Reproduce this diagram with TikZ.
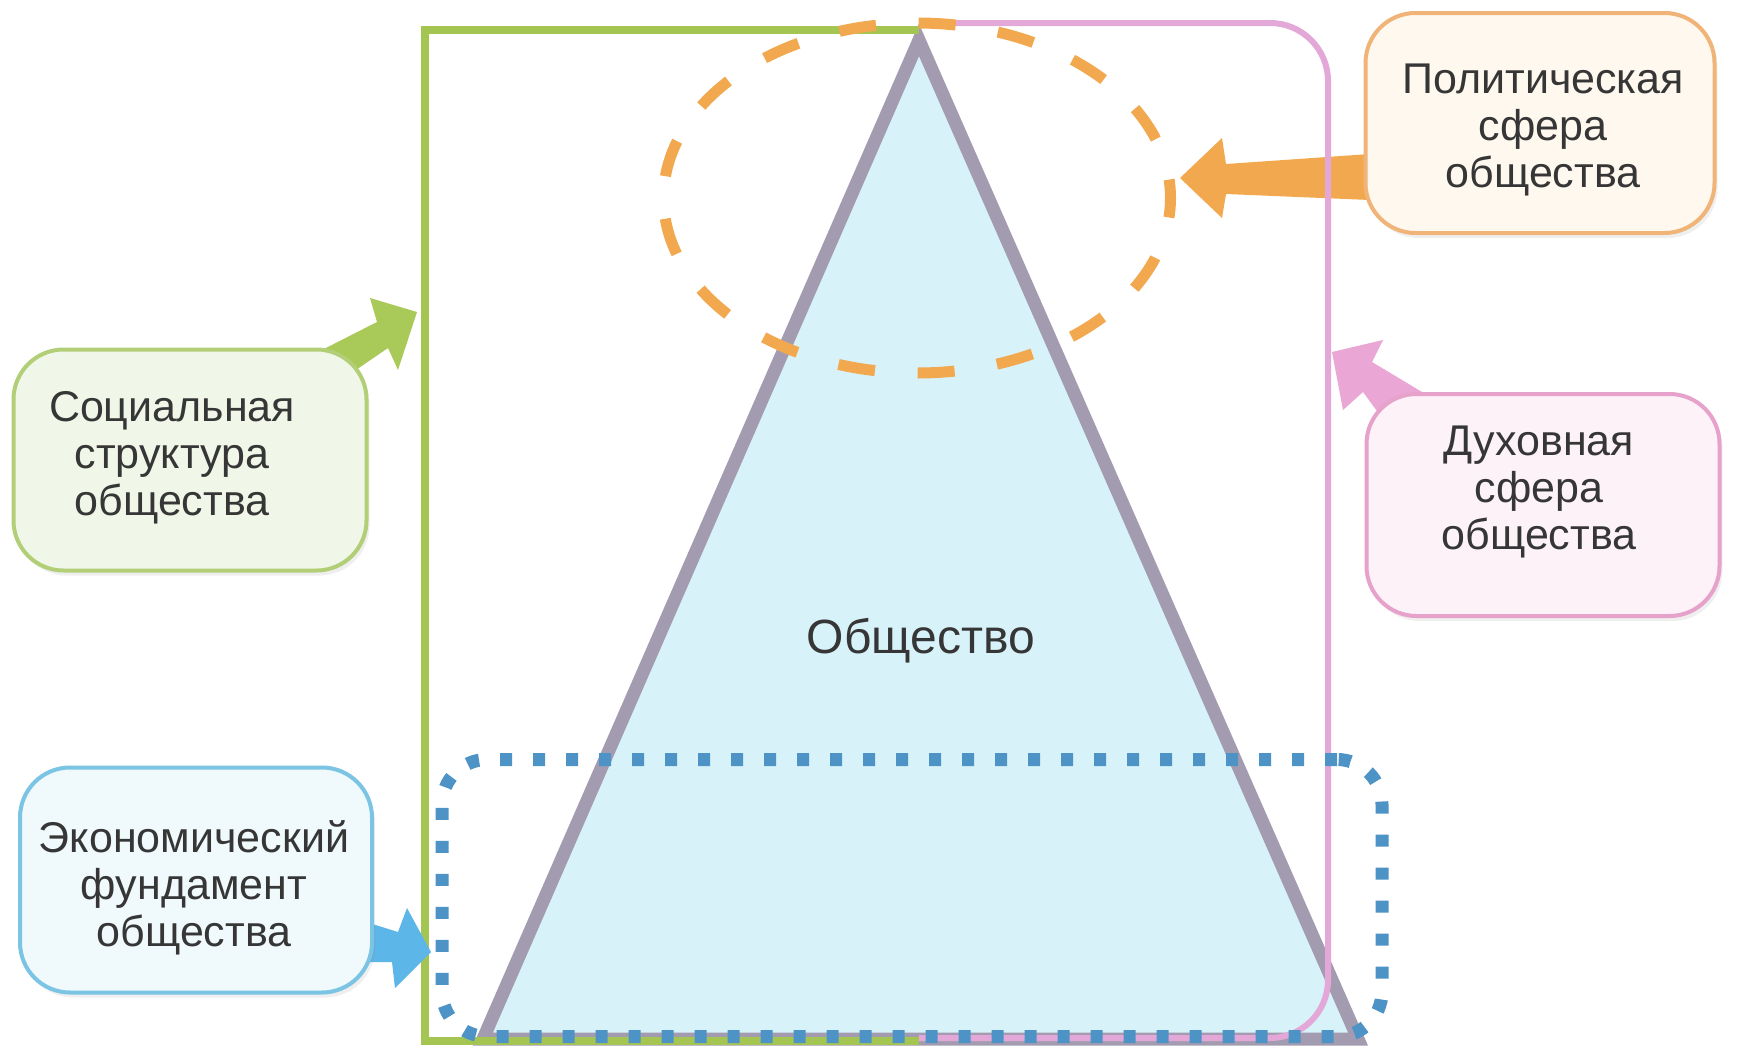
\documentclass[tikz,border=0pt]{standalone}
\usepackage{fontspec}
\setmainfont{Liberation Sans}
\usetikzlibrary{shapes.geometric,shadows}
\definecolor{grn}{HTML}{A5C552}
\definecolor{pnk}{HTML}{E3A8D8}
\definecolor{orn}{HTML}{F2A84E}
\definecolor{dotblue}{HTML}{4E93C6}
\definecolor{arrblue}{HTML}{5DB6E8}
\definecolor{trist}{HTML}{A39CB0}
\definecolor{trifill}{HTML}{D8F2F9}
\definecolor{txt}{HTML}{363636}
\definecolor{polbd}{HTML}{F0B478}\definecolor{polfl}{HTML}{FEF8EE}
\definecolor{socbd}{HTML}{B2CF78}\definecolor{socfl}{HTML}{F1F7E8}
\definecolor{spibd}{HTML}{E6A2CA}\definecolor{spifl}{HTML}{FDF2F8}
\definecolor{ecobd}{HTML}{7CC4E4}\definecolor{ecofl}{HTML}{F0F9FC}
\definecolor{grnarr}{HTML}{A9C958}
\definecolor{pnkarr}{HTML}{EAA6D4}
\begin{document}
\begin{tikzpicture}[x=1pt,y=-1pt,
  boxst/.style={rectangle, rounded corners=50pt, line width=4pt, inner sep=0pt,
     drop shadow={opacity=0.12, shadow xshift=3pt, shadow yshift=-5pt}},
  lbl/.style={align=center, text=txt, font=\fontsize{43}{47}\selectfont, inner sep=0pt},
  tri/.style={draw=trist, fill=trifill, line width=13pt, line join=miter},
]
\useasboundingbox (0,0) rectangle (1740,1047);
\fill[white] (0,0) rectangle (1740,1047);

% triangle (society)
\draw[tri] (919,40) -- (483,1039) -- (1358,1039) -- cycle;
\node[text=txt, font=\fontsize{48}{52}\selectfont, inner sep=0pt] (soc) at (921,641) {Общество};

% orange arrow (under pink frame)
\fill[orn] (1180,178) -- (1222,138) -- (1226,164) -- (1370,154) -- (1370,200) -- (1226,194) -- (1222,218) -- cycle;

% frames
\draw[grn, line width=8pt] (919,30) -- (425,30) -- (425,1041) -- (919,1041);
\draw[pnk, line width=6pt, rounded corners=58pt] (919,23) -- (1328,23) -- (1328,1038) -- (919,1038);

% zones
\node[ellipse, draw=orn, line width=11pt, minimum width=507pt, minimum height=350pt,
      dash pattern=on 37pt off 42.8pt, dash phase=18.5pt] (polzone) at (917,198) {};
\node[rectangle, rounded corners=45pt, draw=dotblue, line width=13pt,
      minimum width=940pt, minimum height=277pt, dash pattern=on 12pt off 21pt] (ecozone) at (912,898) {};

% other arrows
\fill[grnarr] (318,352) -- (377,322) -- (370,298) -- (417,312) -- (398,370) -- (388,348) -- (350,374) -- cycle;
\fill[pnkarr] (1332,352) -- (1383,340) -- (1372,362) -- (1432,398) -- (1385,422) -- (1363,392) -- (1343,410) -- cycle;
\fill[arrblue] (366,922) -- (398,932) -- (407,908) -- (431,952) -- (395,988) -- (392,962) -- (366,962) -- cycle;

% boxes
\node[boxst, draw=polbd, fill=polfl, minimum width=349pt, minimum height=220pt] (pol) at (1540,123) {};
\node[boxst, draw=socbd, fill=socfl, minimum width=353pt, minimum height=221pt] (socb) at (190,460) {};
\node[boxst, draw=spibd, fill=spifl, minimum width=353pt, minimum height=222pt] (spi) at (1543,505) {};
\node[boxst, draw=ecobd, fill=ecofl, minimum width=352pt, minimum height=225pt] (eco) at (196,880) {};

\node[lbl] (poltxt) at (1543,130) {Политическая\\сфера\\общества};
\node[lbl] (soctxt) at (172,458) {Социальная\\структура\\общества};
\node[lbl] (spitxt) at (1539,492) {Духовная\\сфера\\общества};
\node[lbl] (ecotxt) at (194,888) {Экономический\\фундамент\\общества};
\end{tikzpicture}
\end{document}
